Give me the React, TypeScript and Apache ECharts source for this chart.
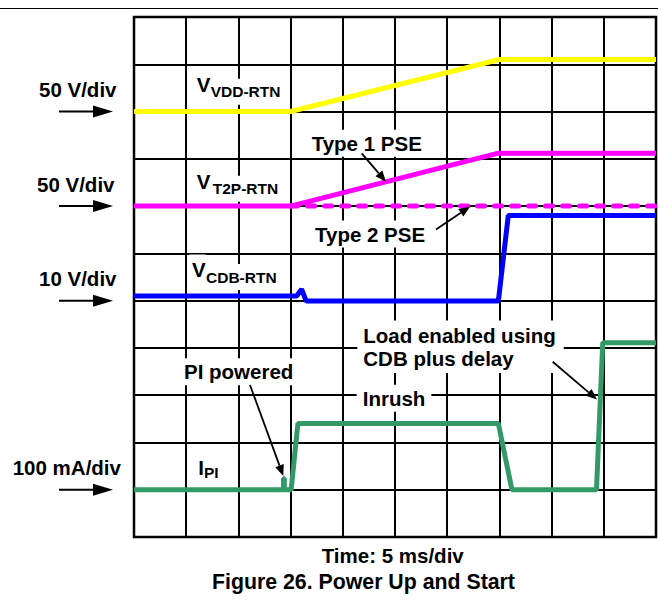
import React, { useEffect, useRef } from "react";
import * as echarts from "echarts";

// ---- Data (x in time divisions, 5 ms/div; y in screen divisions) ----
const vddX = [0, 3.0, 7.0, 10];
const vddY = [9.0, 9.0, 10.1, 10.1];

const type1X = [0, 3.0, 6.98, 10];
const type1Y = [7.0, 7.0, 8.12, 8.12];

const type2X = [3.0, 10];
const type2Y = [7.0, 7.0];

const cdbX = [0, 3.12, 3.21, 3.3, 6.98, 7.17, 10];
const cdbY = [5.1, 5.1, 5.24, 4.99, 4.99, 6.8, 6.8];

const ipiX = [0, 2.865, 2.865, 2.88, 2.88, 3.01, 3.14, 6.98, 7.24, 8.86, 8.98, 10];
const ipiY = [1.0, 1.0, 1.24, 1.24, 1.0, 1.0, 2.4, 2.4, 1.0, 1.0, 4.11, 4.11];

const scaleLabels = ["50 V/div", "50 V/div", "10 V/div", "100 mA/div"];
const scaleLevels = [9, 7, 5, 1];

const xTicks = { min: 0, max: 10, interval: 1 };
const yTicks = { min: 0, max: 11, interval: 1 };

// ---- Layout ----
const G = { left: 134, top: 17, width: 522, height: 520 };
const FONT = '"Liberation Sans", Arial, Helvetica, sans-serif';
const f = (s: number) => `bold ${s}px ${FONT}`;
const py = (v: number) => G.top + G.height - (v / yTicks.max) * G.height;

const zip = (xs: number[], ys: number[]) => xs.map((x, i) => [x, ys[i]]);

function arrow(x1: number, y1: number, x2: number, y2: number, len: number, half: number, w: number) {
  const dx = x2 - x1, dy = y2 - y1;
  const L = Math.hypot(dx, dy);
  const ux = dx / L, uy = dy / L;
  const bx = x2 - ux * len, by = y2 - uy * len;
  const nx = -uy, ny = ux;
  return [
    { type: "line", z: 100, shape: { x1, y1, x2: bx, y2: by }, style: { stroke: "#000", lineWidth: w } },
    {
      type: "polygon",
      z: 100,
      shape: { points: [[x2, y2], [bx + nx * half, by + ny * half], [bx - nx * half, by - ny * half]] },
      style: { fill: "#000" },
    },
  ];
}

// x = left edge of the glyphs, y = vertical centre of the glyph line
function txt(text: string, x: number, y: number, size: number, bg = false, pad: number[] = [3, 5, 3, 5], extra: any = {}, zz = 100) {
  const style: any = {
    text,
    font: f(size),
    fill: "#000",
    align: "left",
    verticalAlign: "middle",
    textAlign: "left",
    textVerticalAlign: "middle",
    ...extra,
  };
  let ox = 0;
  if (bg) {
    style.backgroundColor = "#fff";
    style.padding = pad;
    ox = pad[3];
  }
  return { type: "text", x: x - ox, y, z: zz, style };
}

export default function App() {
  const ref = useRef<HTMLDivElement>(null);
  useEffect(() => {
    if (!ref.current) return;
    const chart = echarts.init(ref.current, undefined, { renderer: "svg" });

    const axisCommon = {
      type: "value",
      axisLine: { show: false },
      axisTick: { show: false },
      axisLabel: { show: false },
      splitLine: { show: true, lineStyle: { color: "#000", width: 2 } },
    };

    const lineSeries = (name: string, xs: number[], ys: number[], color: string, z: number, dashed = false) => ({
      type: "line",
      name,
      data: zip(xs, ys),
      showSymbol: false,
      symbol: "none",
      silent: true,
      z,
      lineStyle: dashed
        ? { color, width: 5, type: [7, 10], cap: "round" }
        : { color, width: 5 },
    });

    const graphic: any[] = [];
    // top rule
    graphic.push({ type: "line", z: 100, shape: { x1: 0, y1: 8.5, x2: 658, y2: 8.5 }, style: { stroke: "#000", lineWidth: 1 } });

    // scale labels and arrows
    const labelX = [39, 37, 39, 12.7];
    scaleLevels.forEach((lv, i) => {
      const y = py(lv);
      graphic.push(txt(scaleLabels[i], labelX[i], y - 22, 20.5));
      graphic.push(...arrow(59, y, 113, y, 20, 6, 2));
    });

    // trace names (subscript boxes first so the main letter sits on top)
    graphic.push(txt("VDD-RTN", 210.7, 91.7, 15.5, true, [10, 3, 0, 0], {}, 100));
    graphic.push(txt("V", 196.7, 84.2, 20.5, true, [4, 0, 4, 3], {}, 101));
    graphic.push(txt("T2P-RTN", 212.7, 188.8, 15.5, true, [10, 3, 0, 0], {}, 100));
    graphic.push(txt("V", 196.7, 181.7, 20.5, true, [4, 0, 4, 3], {}, 101));
    graphic.push(txt("CDB-RTN", 206, 277, 15.5, true, [10, 3, 0, 0], {}, 100));
    graphic.push(txt("V", 192, 269, 20.5, true, [4, 0, 4, 3], {}, 101));
    graphic.push(txt("PI", 204, 472.5, 15.5, true, [6, 3, 0, 0], {}, 100));
    graphic.push(txt("I", 198.3, 467.5, 20.5, true, [2, 0, 2, 2], {}, 101));

    // annotations
    graphic.push(txt("Type 1 PSE", 311.7, 143.3, 20.5, true, [3, 5, 3, 5]));
    graphic.push(...arrow(361.7, 153.3, 386, 181.7, 11, 4.5, 1.8));
    graphic.push(txt("Type 2 PSE", 315, 234, 20.5, true, [3, 5, 3, 5]));
    graphic.push(...arrow(436, 229.5, 470, 206.7, 11, 4.5, 1.8));
    graphic.push(txt("Load enabled using\nCDB plus delay", 363.3, 346.7, 20.5, true, [3, 8, 3, 6], { lineHeight: 23.3 }));
    graphic.push(...arrow(552.7, 361.7, 597, 399.5, 11, 4.5, 1.8));
    graphic.push(txt("Inrush", 362.7, 398.3, 20.5, true, [3, 6, 3, 6]));
    graphic.push(txt("PI powered", 184, 371.7, 20.5, true, [3, 5, 3, 5]));
    graphic.push(...arrow(250, 385, 283.3, 476, 11, 4.5, 1.8));

    // footer
    graphic.push(txt("Time: 5 ms/div", 321.7, 555.3, 20.5));
    graphic.push(txt("Figure 26. Power Up and Start", 212, 582, 21.3));

    chart.setOption({
      animation: false,
      backgroundColor: "#fff",
      grid: {
        ...G,
        show: true,
        borderColor: "#000",
        borderWidth: 2.5,
        backgroundColor: "transparent",
      },
      xAxis: { ...axisCommon, ...xTicks },
      yAxis: { ...axisCommon, ...yTicks },
      series: [
        lineSeries("VDD-RTN", vddX, vddY, "#FFFF00", 2),
        lineSeries("T2P-RTN Type 1 PSE", type1X, type1Y, "#FF00FF", 3),
        lineSeries("T2P-RTN Type 2 PSE", type2X, type2Y, "#FF00FF", 4, true),
        lineSeries("CDB-RTN", cdbX, cdbY, "#0000FF", 5),
        lineSeries("IPI", ipiX, ipiY, "#339966", 6),
      ],
      graphic,
    });
    return () => chart.dispose();
  }, []);

  return (
    <div
      ref={ref}
      style={{ position: "fixed", left: 0, top: 0, width: 658, height: 608, background: "#fff" }}
    />
  );
}
